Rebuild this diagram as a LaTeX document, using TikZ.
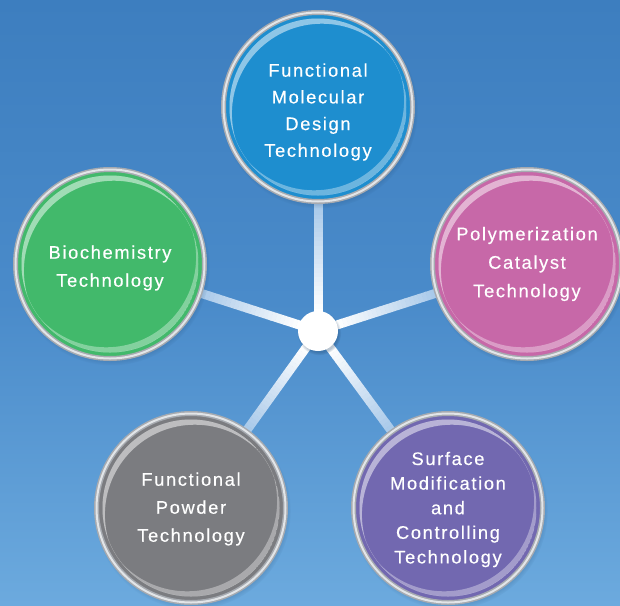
\documentclass[tikz,border=0pt]{standalone}
\usepackage{fontspec}
\setmainfont{Liberation Sans}[LetterSpace=9]
\newfontfamily\lblfont{Liberation Sans}[LetterSpace=9, FakeBold=0.35]
\usetikzlibrary{shadows,calc,fadings}
\pgfdeclarelayer{bg}
\pgfdeclarelayer{spokes}
\pgfsetlayers{bg,spokes,main}
\definecolor{bgtop}{HTML}{3D7EBF}
\definecolor{bgmid}{HTML}{4A8BCA}
\definecolor{bgbot}{HTML}{6CAADE}
\definecolor{cblue}{HTML}{1E8ECF}
\definecolor{cgreen}{HTML}{42B96B}
\definecolor{cpink}{HTML}{C768A8}
\definecolor{cgray}{HTML}{7B7C80}
\definecolor{cpurple}{HTML}{7268B0}
\definecolor{ringout}{HTML}{A6AAB0}
\definecolor{ringin}{HTML}{E2E5E8}
\definecolor{spokeend}{HTML}{A2C5E8}
\definecolor{shadowc}{HTML}{1A3F66}
\newcommand\glossy[1]{%
  \begin{scope}
    \clip (#1.center) circle (88.5);
    \fill[white, opacity=.5, even odd rule] (#1.center) circle (88.5) ($(#1.center)+(3.9,-6.7)$) circle (90);
    \fill[white, opacity=.35, even odd rule] (#1.center) circle (88.5) ($(#1.center)+(-3.9,6.7)$) circle (90);
  \end{scope}}
\tikzset{
  ball/.style={circle, inner sep=0pt, minimum size=189pt, fill=#1, draw=ringout, line width=5pt,
    postaction={draw=ringin, line width=2pt},
    circular drop shadow={shadow xshift=1.5pt, shadow yshift=-3pt, shadow scale=1.04, opacity=0.45, fill=shadowc}},
  lbl/.style={text=white, align=center, inner sep=0pt, font=\lblfont\fontsize{18.3}{#1}\selectfont},
  hub/.style={circle, fill=white, minimum size=40pt, inner sep=0pt,
    circular drop shadow={shadow xshift=1pt, shadow yshift=-2pt, opacity=0.3, fill=shadowc}},
  spoke/.style={line width=9pt}
}
\begin{document}
\begin{tikzpicture}[x=1pt,y=1pt]
\begin{pgfonlayer}{bg}
  \shade[top color=bgtop, bottom color=bgbot, middle color=bgmid] (0,0) rectangle (620,-605);
\end{pgfonlayer}
\useasboundingbox (0,0) rectangle (620,-605);

\node[ball=cblue] (nTop) at (318,-107) {};
\node[ball=cgreen] (nBio) at (110,-264) {};
\node[ball=cpink] (nPoly) at (527,-264) {};
\node[ball=cgray] (nPow) at (191,-508) {};
\node[ball=cpurple] (nSurf) at (448,-508) {};
\foreach \n in {nTop,nBio,nPoly,nPow,nSurf}{\glossy{\n}}

\node[lbl=26.7] (tTop) at ($(nTop)+(0,-5)$) {Functional\\Molecular\\Design\\Technology};
\node[lbl=28] (tBio) at ($(nBio)+(0,-4)$) {Biochemistry\\Technology};
\node[lbl=28.5] (tPoly) at ($(nPoly)+(0,0)$) {Polymerization\\Catalyst\\Technology};
\node[lbl=28] (tPow) at ($(nPow)+(0,-1)$) {Functional\\Powder\\Technology};
\node[lbl=24.6] (tSurf) at ($(nSurf)+(0,-1.5)$) {Surface\\Modification\\and\\Controlling\\Technology};

\node[hub] (c) at (318,-331) {};

\begin{pgfonlayer}{spokes}
\foreach \t in {nTop,nBio,nPoly,nPow,nSurf}{
  \foreach \i in {0,...,25}{
    \pgfmathsetmacro\a{0.08+\i*0.02}
    \pgfmathsetmacro\b{0.10+\i*0.02+0.002}
    \pgfmathsetmacro\w{100-\i*4}
    \draw[spoke, white!\w!spokeend] ($(c)!\a!(\t)$) -- ($(c)!\b!(\t)$);
  }
}
\end{pgfonlayer}
\end{tikzpicture}
\end{document}
